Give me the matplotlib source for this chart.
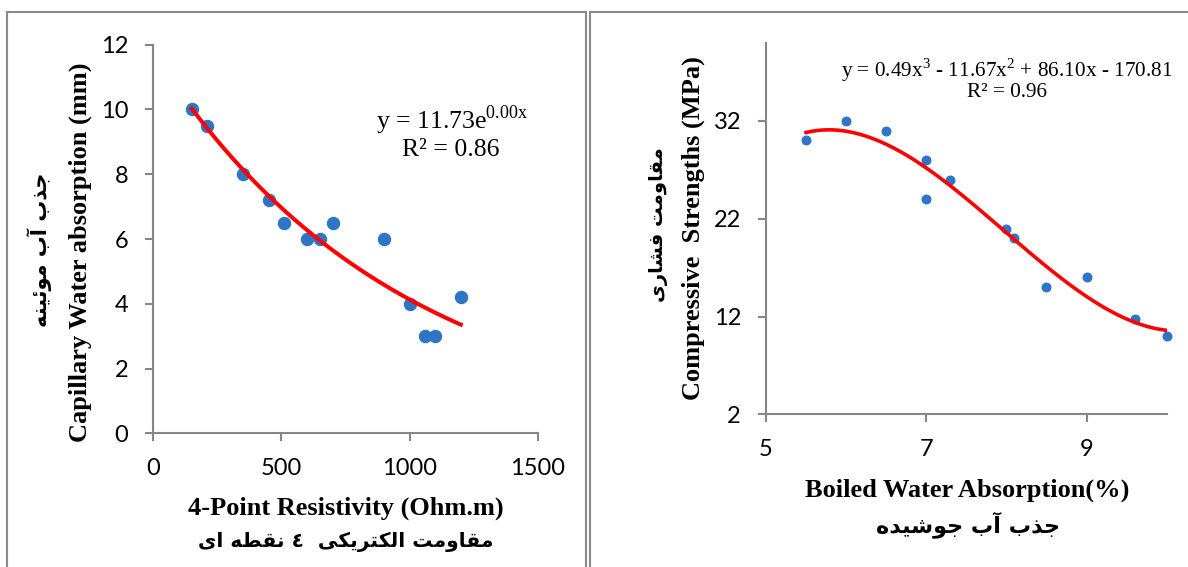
import numpy as np
import matplotlib
matplotlib.use("Agg")
import matplotlib.pyplot as plt
from matplotlib.patches import Rectangle

plt.rcParams['mathtext.fontset'] = 'custom'
plt.rcParams['mathtext.rm'] = 'Liberation Serif'

# left chart: capillary water absorption vs 4-point resistivity
res_x = [150, 210, 350, 450, 510, 600, 650, 700, 900, 1000, 1060, 1100, 1200]
cap_y = [10, 9.5, 8, 7.2, 6.5, 6, 6, 6.5, 6, 4, 3, 3, 4.2]
left_xticks = [0, 500, 1000, 1500]
left_yticks = [0, 2, 4, 6, 8, 10, 12]

# right chart: compressive strength vs boiled water absorption
boil_x = [5.5, 6.0, 6.5, 7.0, 7.0, 7.3, 8.0, 8.1, 8.5, 9.0, 9.6, 10.0]
comp_y = [30, 32, 31, 28, 24, 26, 21, 20, 15, 16, 11.7, 10]
right_xticks = [5, 7, 9]
right_yticks = [2, 12, 22, 32]

# persian letters -> presentation forms (isolated, final, initial, medial)
FORMS = {
    'ا': ('\uFE8D', '\uFE8E', None, None),
    'آ': ('\uFE81', '\uFE82', None, None),
    'ب': ('\uFE8F', '\uFE90', '\uFE91', '\uFE92'),
    'ت': ('\uFE95', '\uFE96', '\uFE97', '\uFE98'),
    'ج': ('\uFE9D', '\uFE9E', '\uFE9F', '\uFEA0'),
    'د': ('\uFEA9', '\uFEAA', None, None),
    'ذ': ('\uFEAB', '\uFEAC', None, None),
    'ر': ('\uFEAD', '\uFEAE', None, None),
    'ش': ('\uFEB5', '\uFEB6', '\uFEB7', '\uFEB8'),
    'ط': ('\uFEC1', '\uFEC2', '\uFEC3', '\uFEC4'),
    'ف': ('\uFED1', '\uFED2', '\uFED3', '\uFED4'),
    'ق': ('\uFED5', '\uFED6', '\uFED7', '\uFED8'),
    'ل': ('\uFEDD', '\uFEDE', '\uFEDF', '\uFEE0'),
    'م': ('\uFEE1', '\uFEE2', '\uFEE3', '\uFEE4'),
    'ن': ('\uFEE5', '\uFEE6', '\uFEE7', '\uFEE8'),
    'ه': ('\uFEE9', '\uFEEA', '\uFEEB', '\uFEEC'),
    'و': ('\uFEED', '\uFEEE', None, None),
    'ئ': ('\uFE89', '\uFE8A', '\uFE8B', '\uFE8C'),
    'ی': ('\uFBFC', '\uFBFD', '\uFBFE', '\uFBFF'),
    'ک': ('\uFB8E', '\uFB8F', '\uFB90', '\uFB91'),
}


def shape(text):
    # join letters and reverse for right-to-left display
    out = []
    for i, ch in enumerate(text):
        f = FORMS.get(ch)
        if f is None:
            out.append(ch)
            continue
        prev = text[i - 1] if i > 0 else ''
        nxt = text[i + 1] if i + 1 < len(text) else ''
        jp = prev in FORMS and FORMS[prev][2] is not None
        jn = f[2] is not None and nxt in FORMS
        if jp and jn:
            out.append(f[3])
        elif jp:
            out.append(f[1])
        elif jn:
            out.append(f[2])
        else:
            out.append(f[0])
    return ''.join(reversed(out))


W, H = 1188, 567
fig = plt.figure(figsize=(W / 100, H / 100), dpi=100)

# panel frames
for x0, x1 in [(6.7, 585.7), (590, 1230)]:
    fig.patches.append(Rectangle((x0 / W, -0.1), (x1 - x0) / W, 1.1 - 12 / H,
                                 transform=fig.transFigure, fill=False,
                                 edgecolor='#8a8a8a', linewidth=1.5))

axis_col = '#868686'
tick_font = 'Lato'
serif = 'Liberation Serif'
dot_col = '#2E75C6'


def style(ax):
    for s in ['top', 'right']:
        ax.spines[s].set_visible(False)
    for s in ['left', 'bottom']:
        ax.spines[s].set_color(axis_col)
        ax.spines[s].set_linewidth(1.5)
    ax.tick_params(length=6, width=1.5, color=axis_col, labelsize=17, pad=12)
    for lab in ax.get_xticklabels() + ax.get_yticklabels():
        lab.set_fontfamily(tick_font)


# left axes
ax1 = fig.add_axes([153.3 / W, 1 - 433.3 / H, 384.4 / W, 388.6 / H])
ax1.set_xlim(0, 1500)
ax1.set_ylim(0, 12)
ax1.set_xticks(left_xticks)
ax1.set_yticks(left_yticks)
style(ax1)
ax1.scatter(res_x, cap_y, s=75, color=dot_col, zorder=3, clip_on=False)
b, lna = np.polyfit(res_x, np.log(cap_y), 1)
xs = np.linspace(min(res_x), max(res_x), 200)
ax1.plot(xs, np.exp(lna) * np.exp(b * xs), color='red', lw=2.9, zorder=4)

# right axes
ax2 = fig.add_axes([766 / W, 1 - 414.3 / H, 400.7 / W, 371.6 / H])
ax2.set_xlim(5, 10)
ax2.set_ylim(2, 40)
ax2.set_xticks(right_xticks)
ax2.set_yticks(right_yticks)
style(ax2)
ax2.scatter(boil_x, comp_y, s=38, color=dot_col, zorder=3, clip_on=False)
coef = np.polyfit(boil_x, comp_y, 3)
xs2 = np.linspace(min(boil_x), max(boil_x), 200)
ax2.plot(xs2, np.polyval(coef, xs2), color='red', lw=2.6, zorder=4)


def ftext(x, y, s, **kw):
    fig.text(x / W, 1 - y / H, s, ha='center', va='center', **kw)


# left labels
ftext(80, 252, 'Capillary Water absorption (mm)', rotation=90,
      fontsize=19, fontweight='bold', family=serif)
ftext(40, 250, shape('جذب آب موئینه'), rotation=90,
      fontsize=15, fontweight='bold', family='DejaVu Sans')
ftext(346, 508, '4-Point Resistivity (Ohm.m)',
      fontsize=19, fontweight='bold', family=serif)
ftext(346, 542, shape('مقاومت الکتریکی  ٤ نقطه ای'),
      fontsize=14.5, fontweight='bold', family='DejaVu Sans')
ftext(452, 120, 'y = 11.73e$^{\\mathrm{0.00x}}$', fontsize=18.5, family=serif)
ftext(451, 150, 'R² = 0.86', fontsize=18.5, family=serif)

# right labels
ftext(693, 228, 'Compressive  Strengths (MPa)', rotation=90,
      fontsize=19, fontweight='bold', family=serif)
ftext(659, 225, shape('مقاومت فشاری'), rotation=90,
      fontsize=14, fontweight='bold', family='DejaVu Sans')
ftext(967, 490, 'Boiled Water Absorption(%)',
      fontsize=19, fontweight='bold', family=serif)
ftext(968, 525, shape('جذب آب جوشیده'),
      fontsize=16, fontweight='bold', family='DejaVu Sans')
ftext(1007, 70, 'y = 0.49x$^{\\mathrm{3}}$ - 11.67x$^{\\mathrm{2}}$ + 86.10x - 170.81',
      fontsize=15.3, family=serif)
ftext(1007, 93, 'R² = 0.96', fontsize=15.3, family=serif)

fig.savefig('out.png', dpi=100)
